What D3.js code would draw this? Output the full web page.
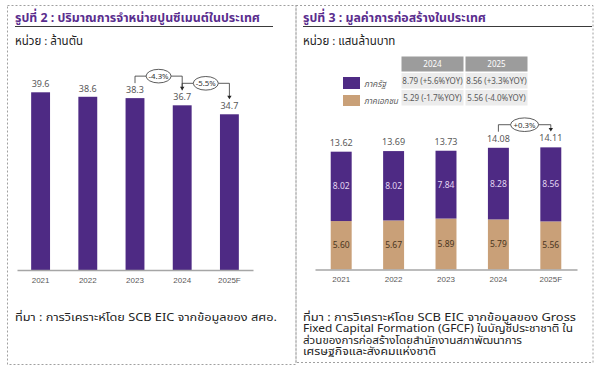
<!DOCTYPE html>
<html>
<head>
<meta charset="utf-8">
<script src="https://cdn.jsdelivr.net/npm/d3@7"></script>
<style>
  body { margin: 0; background: #fff; }
  svg text { font-family: Tahoma, "Noto Sans Thai", "Liberation Sans", "Noto Sans", sans-serif; }
</style>
</head>
<body>
<div id="chart"></div>
<script>
let years = ["2021", "2022", "2023", "2024", "2025F"];
let cementSales = [39.6, 38.6, 38.3, 36.7, 34.7];
let cementGrowth = [
  { from: "2023", to: "2024", label: "-4.3%" },
  { from: "2024", to: "2025F", label: "-5.5%" }
];

let publicConstruction = [8.02, 8.02, 7.84, 8.28, 8.56];
let privateConstruction = [5.60, 5.67, 5.89, 5.79, 5.56];
let constructionTotal = [13.62, 13.69, 13.73, 14.08, 14.11];
let constructionGrowth = [{ from: "2024", to: "2025F", label: "+0.3%" }];

let seriesNames = ["ภาครัฐ", "ภาคเอกชน"];
let tableYears = ["2024", "2025"];
let tablePublic = ["8.79 (+5.6%YOY)", "8.56 (+3.3%YOY)"];
let tablePrivate = ["5.29 (-1.7%YOY)", "5.56 (-4.0%YOY)"];

let purple = "#4e2a84";
let tan = "#c9a078";
let titleColor = "#5a2d8e";
let labelColor = "#595959";

let svg = d3.select("#chart").append("svg")
  .attr("width", 600)
  .attr("height", 374);

/* panel frames */
svg.append("rect")
  .attr("x", 7.5).attr("y", 5.5).attr("width", 288.5).attr("height", 359)
  .attr("fill", "none").attr("stroke", "#a0a0a0").attr("stroke-dasharray", "2,2");
svg.append("rect")
  .attr("x", 296).attr("y", 5.5).attr("width", 297).attr("height", 357)
  .attr("fill", "none").attr("stroke", "#a0a0a0").attr("stroke-dasharray", "2,2");

function header(x, lineEnd, title, unit, titleWidth) {
  svg.append("text")
    .attr("x", x).attr("y", 22)
    .attr("fill", titleColor)
    .style("font-size", "13px").style("font-weight", "bold")
    .attr("textLength", titleWidth).attr("lengthAdjust", "spacingAndGlyphs")
    .text(title);
  svg.append("line")
    .attr("x1", x).attr("x2", lineEnd).attr("y1", 26.5).attr("y2", 26.5)
    .attr("stroke", "#3a3a3a").attr("stroke-width", 1.2);
  svg.append("text")
    .attr("x", x).attr("y", 45)
    .attr("fill", "#222")
    .style("font-size", "11.5px")
    .text(unit);
}

header(15, 273, "รูปที่ 2 : ปริมาณการจำหน่ายปูนซีเมนต์ในประเทศ", "หน่วย : ล้านตัน", 245);
header(303, 592, "รูปที่ 3 : มูลค่าการก่อสร้างในประเทศ", "หน่วย : แสนล้านบาท", 183);

/* growth bracket with ellipse label */
function growthBracket(g, xs, labelY, d, rx) {
  let x1 = xs(d.from) + xs.bandwidth() / 2;
  let x2 = xs(d.to) + xs.bandwidth() / 2;
  let y1 = labelY(d.from) - 7;
  let y2 = labelY(d.to) - 7;
  let yh = labelY(d.from) - 14;
  let cx = (x1 + x2) / 2;
  g.append("path")
    .attr("d", `M${x1},${y1}V${yh}H${cx - rx}M${cx + rx},${yh}H${x2}V${y2 - 3}`)
    .attr("fill", "none").attr("stroke", "#333").attr("stroke-width", 0.8);
  g.append("path")
    .attr("d", `M${x2 - 2.2},${y2 - 3.5}L${x2 + 2.2},${y2 - 3.5}L${x2},${y2}Z`)
    .attr("fill", "#222");
  g.append("ellipse")
    .attr("cx", cx).attr("cy", yh).attr("rx", rx).attr("ry", 6.8)
    .attr("fill", "#fff").attr("stroke", "#333").attr("stroke-width", 0.8);
  g.append("text")
    .attr("x", cx).attr("y", yh + 2.8)
    .attr("text-anchor", "middle")
    .attr("fill", "#333")
    .style("font-size", "7.8px")
    .text(d.label);
}

/* ---------- left chart ---------- */
let x1Scale = d3.scaleBand().domain(years).range([17, 253]).paddingInner(0.6).paddingOuter(0.3);
let y1Scale = d3.scaleLinear().domain([0, 40]).range([270, 90.5]);
let left = svg.append("g");

left.selectAll(".bar")
  .data(years)
  .enter()
  .append("rect")
  .attr("x", d => x1Scale(d))
  .attr("y", (d, i) => y1Scale(cementSales[i]))
  .attr("width", x1Scale.bandwidth())
  .attr("height", (d, i) => y1Scale(0) - y1Scale(cementSales[i]))
  .attr("fill", purple);

left.selectAll(".val")
  .data(years)
  .enter()
  .append("text")
  .attr("x", d => x1Scale(d) + x1Scale.bandwidth() / 2)
  .attr("y", (d, i) => y1Scale(cementSales[i]) - 5)
  .attr("text-anchor", "middle")
  .attr("fill", labelColor)
  .style("font-size", "9px")
  .text((d, i) => cementSales[i].toFixed(1));

let xAxis1 = d3.axisBottom(x1Scale).tickSize(0).tickPadding(7);
left.append("g")
  .attr("transform", "translate(0,270)")
  .call(xAxis1)
  .call(g => g.select(".domain").attr("stroke", "#a6a6a6").attr("stroke-width", 1.5))
  .call(g => g.selectAll("text").attr("fill", labelColor).style("font-size", "8px")
    .style("font-family", "Tahoma, 'Liberation Sans', sans-serif"));

let labelY1 = yr => y1Scale(cementSales[years.indexOf(yr)]) - 8;
cementGrowth.forEach(d => growthBracket(left, x1Scale, labelY1, d, 12.5));

/* ---------- right chart ---------- */
let x2Scale = d3.scaleBand().domain(years).range([315, 577]).paddingInner(0.6).paddingOuter(0.3);
let y2Scale = d3.scaleLinear().domain([0, 16]).range([269.5, 131.1]);
let right = svg.append("g");

let stackRows = years.map((y, i) => ({ year: y, priv: privateConstruction[i], pub: publicConstruction[i] }));
let stacked = d3.stack().keys(["priv", "pub"])(stackRows);
let stackColors = [tan, purple];
let insideColors = ["#4a3520", "#e3d6f2"];

let layers = right.selectAll(".layer")
  .data(stacked)
  .enter()
  .append("g")
  .attr("fill", (d, i) => stackColors[i]);

layers.selectAll("rect")
  .data(d => d)
  .enter()
  .append("rect")
  .attr("x", d => x2Scale(d.data.year))
  .attr("y", d => y2Scale(d[1]))
  .attr("width", x2Scale.bandwidth())
  .attr("height", d => y2Scale(d[0]) - y2Scale(d[1]));

layers.each(function(layer, li) {
  d3.select(this).selectAll("text")
    .data(layer)
    .enter()
    .append("text")
    .attr("x", d => x2Scale(d.data.year) + x2Scale.bandwidth() / 2)
    .attr("y", d => (y2Scale(d[0]) + y2Scale(d[1])) / 2 + 3)
    .attr("text-anchor", "middle")
    .attr("fill", insideColors[li])
    .style("font-size", "8.5px")
    .text(d => (d[1] - d[0]).toFixed(2));
});

right.selectAll(".total")
  .data(years)
  .enter()
  .append("text")
  .attr("x", d => x2Scale(d) + x2Scale.bandwidth() / 2)
  .attr("y", (d, i) => y2Scale(constructionTotal[i]) - 6)
  .attr("text-anchor", "middle")
  .attr("fill", labelColor)
  .style("font-size", "9px")
  .text((d, i) => constructionTotal[i].toFixed(2));

let xAxis2 = d3.axisBottom(x2Scale).tickSize(0).tickPadding(7);
right.append("g")
  .attr("transform", "translate(0,269.5)")
  .call(xAxis2)
  .call(g => g.select(".domain").attr("stroke", "#a6a6a6").attr("stroke-width", 1.5))
  .call(g => g.selectAll("text").attr("fill", labelColor).style("font-size", "8px")
    .style("font-family", "Tahoma, 'Liberation Sans', sans-serif"));

let labelY2 = yr => y2Scale(constructionTotal[years.indexOf(yr)]) - 9;
constructionGrowth.forEach(d => growthBracket(right, x2Scale, labelY2, d, 14));

/* legend */
let legend = right.append("g");
let legendWidths = [22, 34];
seriesNames.forEach((name, i) => {
  legend.append("rect")
    .attr("x", 343).attr("y", i === 0 ? 77 : 95)
    .attr("width", 17).attr("height", i === 0 ? 12 : 11)
    .attr("fill", i === 0 ? purple : tan);
  legend.append("text")
    .attr("x", 364).attr("y", i === 0 ? 86.5 : 104)
    .attr("fill", labelColor)
    .style("font-size", "9px").style("font-style", "italic")
    .attr("textLength", legendWidths[i]).attr("lengthAdjust", "spacingAndGlyphs")
    .text(name);
});

/* table */
let colX = [401.5, 465.5];
let colW = 62;
let table = right.append("g");
tableYears.forEach((yr, j) => {
  table.append("rect").attr("x", colX[j]).attr("y", 56.5).attr("width", colW).attr("height", 15).attr("fill", "#9c9c9c");
  table.append("text").attr("x", colX[j] + colW / 2).attr("y", 67).attr("text-anchor", "middle")
    .attr("fill", "#fff").style("font-size", "8px").text(yr);
  [tablePublic, tablePrivate].forEach((row, r) => {
    let ry = r === 0 ? 73 : 90;
    table.append("rect").attr("x", colX[j]).attr("y", ry).attr("width", colW).attr("height", 15.5).attr("fill", "#ececec");
    table.append("text").attr("x", colX[j] + colW / 2).attr("y", ry + 11).attr("text-anchor", "middle")
      .attr("fill", labelColor).style("font-size", "8px").text(row[j]);
  });
});

/* footnotes */
svg.append("text")
  .attr("x", 15).attr("y", 321)
  .attr("fill", "#222")
  .style("font-size", "11px")
  .attr("textLength", 262).attr("lengthAdjust", "spacingAndGlyphs")
  .text("ที่มา : การวิเคราะห์โดย SCB EIC จากข้อมูลของ สศอ.");

let noteLines = [
  "ที่มา : การวิเคราะห์โดย SCB EIC จากข้อมูลของ Gross",
  "Fixed Capital Formation (GFCF) ในบัญชีประชาชาติ ใน",
  "ส่วนของการก่อสร้างโดยสำนักงานสภาพัฒนาการ",
  "เศรษฐกิจและสังคมแห่งชาติ"
];
let noteWidths = [273, 270, 219, 133];
let note = svg.append("g").attr("fill", "#222");
note.selectAll("text")
  .data(noteLines)
  .enter()
  .append("text")
  .attr("x", 303)
  .attr("y", (d, i) => 321 + i * 11.4)
  .style("font-size", "10.5px")
  .attr("textLength", (d, i) => noteWidths[i]).attr("lengthAdjust", "spacingAndGlyphs")
  .text(d => d);
</script>
</body>
</html>
